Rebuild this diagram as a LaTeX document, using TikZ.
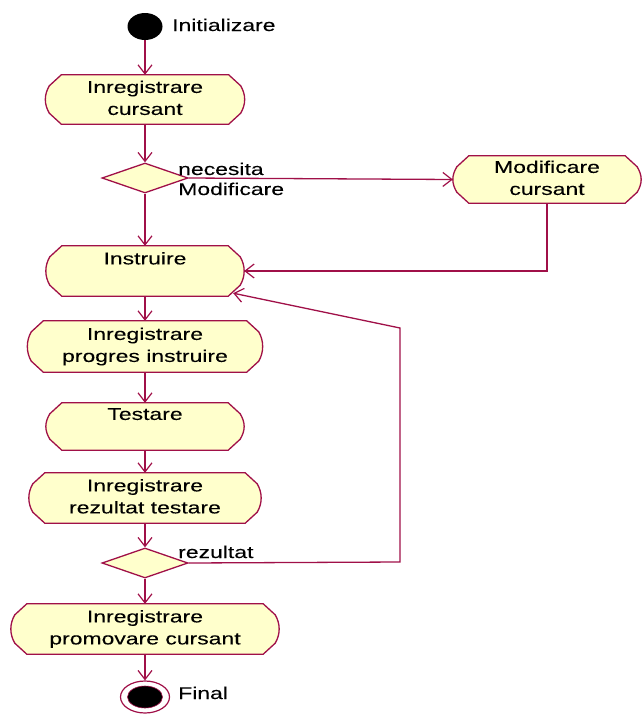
\documentclass[tikz,border=0pt]{standalone}
\usepackage{fontspec}
\setmainfont{Liberation Sans}[FakeStretch=1.35,FakeBold=0.12]
\usetikzlibrary{arrows.meta,shapes.geometric,calc,backgrounds}

\definecolor{umlline}{HTML}{A01048}
\definecolor{umlfill}{HTML}{FFFFCC}
\newcommand\labelfont{\fontsize{17pt}{22pt}\selectfont}

\tikzset{
  flow/.style={draw=umlline, line width=1.3pt,
    -{Straight Barb[length=9pt,width=14pt,line width=1.2pt]}},
  activity/.style={rectangle, inner sep=0pt, align=center, font=\labelfont},
  actoutline/.style={draw=umlline, line width=1.3pt, fill=umlfill},
  decision/.style={diamond, draw=umlline, line width=1.3pt, fill=umlfill,
    minimum width=86pt, minimum height=30pt, inner sep=0pt},
  tag/.style={anchor=base west, inner sep=0pt, font=\labelfont},
}

% Activity outline: flat top and bottom, chamfered corners, slightly bulging sides
\newcommand\activityoutline[1]{%
  \path[actoutline] let \p1=(#1.north west), \p2=(#1.south east) in
    (\x1+16pt,\y1) -- (\x2-16pt,\y1) -- (\x2-4pt,\y1-11pt)
    .. controls (\x2+1.3pt,\y1-20pt) and (\x2+1.3pt,\y2+20pt) .. (\x2-4pt,\y2+11pt)
    -- (\x2-16pt,\y2) -- (\x1+16pt,\y2) -- (\x1+4pt,\y2+11pt)
    .. controls (\x1-1.3pt,\y2+20pt) and (\x1-1.3pt,\y1-20pt) .. (\x1+4pt,\y1-11pt)
    -- cycle;}

\begin{document}
\begin{tikzpicture}[x=1pt, y=-1pt]
  \useasboundingbox (0,0) rectangle (642,715);

  % start
  \node[ellipse, fill=black, minimum width=35pt, minimum height=27pt, inner sep=0pt] (init) at (145,26.5) {};
  \node[tag] (initlbl) at (172,31) {Initializare};

  % activities
  \node[activity, minimum width=199pt, minimum height=49pt] (reg) at (145,99.5)
    {\strut Inregistrare\\\strut cursant};
  \node[decision] (dec1) at (145,178) {};
  \node[tag] (neclbl) at (178,175) {necesita};
  \node[tag] (modlbl) at (178,195) {Modificare};
  \node[activity, minimum width=188pt, minimum height=47pt] (mod) at (547,179.5)
    {\strut Modificare\\\strut cursant};
  \node[activity, minimum width=198pt, minimum height=50pt] (instr) at (145,271)
    {\strut Instruire\\\strut};
  \node[activity, minimum width=235pt, minimum height=51pt] (prog) at (145,346.5)
    {\strut Inregistrare\\\strut progres instruire};
  \node[activity, minimum width=198pt, minimum height=47pt] (test) at (145,426.5)
    {\strut Testare\\\strut};
  \node[activity, minimum width=232pt, minimum height=50pt] (rez) at (145,498)
    {\strut Inregistrare\\\strut rezultat testare};
  \node[decision] (dec2) at (145,563) {};
  \node[tag] (rezlbl) at (178,558) {rezultat};
  \node[activity, minimum width=268pt, minimum height=50pt] (prom) at (145,629)
    {\strut Inregistrare\\\strut promovare cursant};

  % end: bull's eye
  \node[ellipse, draw=umlline, line width=1.2pt, minimum width=49pt, minimum height=32pt, inner sep=0pt] (final) at (145,697) {};
  \node[ellipse, fill=black, draw=umlline, line width=0.6pt, minimum width=35pt, minimum height=22pt, inner sep=0pt] (finaldot) at (final) {};
  \node[tag] (finallbl) at (178,699) {Final};

  \begin{pgfonlayer}{background}
    \activityoutline{reg}
    \activityoutline{mod}
    \activityoutline{instr}
    \activityoutline{prog}
    \activityoutline{test}
    \activityoutline{rez}
    \activityoutline{prom}
  \end{pgfonlayer}

  % transitions
  \draw[flow] (init) -- (reg.north);
  \draw[flow] (reg.south) -- (dec1.north);
  \draw[flow] (dec1.east) -- (mod.west);
  \draw[flow] (mod.south) |- (instr.east);
  \draw[flow] (dec1.south) -- (instr.north);
  \draw[flow] (instr.south) -- (prog.north);
  \draw[flow] (prog.south) -- (test.north);
  \draw[flow] (test.south) -- (rez.north);
  \draw[flow] (rez.south) -- (dec2.north);
  \draw[flow] (dec2.south) -- (prom.north);
  \draw[flow] (prom.south) -- (final.north);

  % loop back to training
  \coordinate (loopa) at (400,562);
  \coordinate (loopb) at (400,328);
  \draw[flow] (dec2.east) -- (loopa) -- (loopb) -- ($(instr.south east)+(-11pt,3pt)$);
\end{tikzpicture}
\end{document}
